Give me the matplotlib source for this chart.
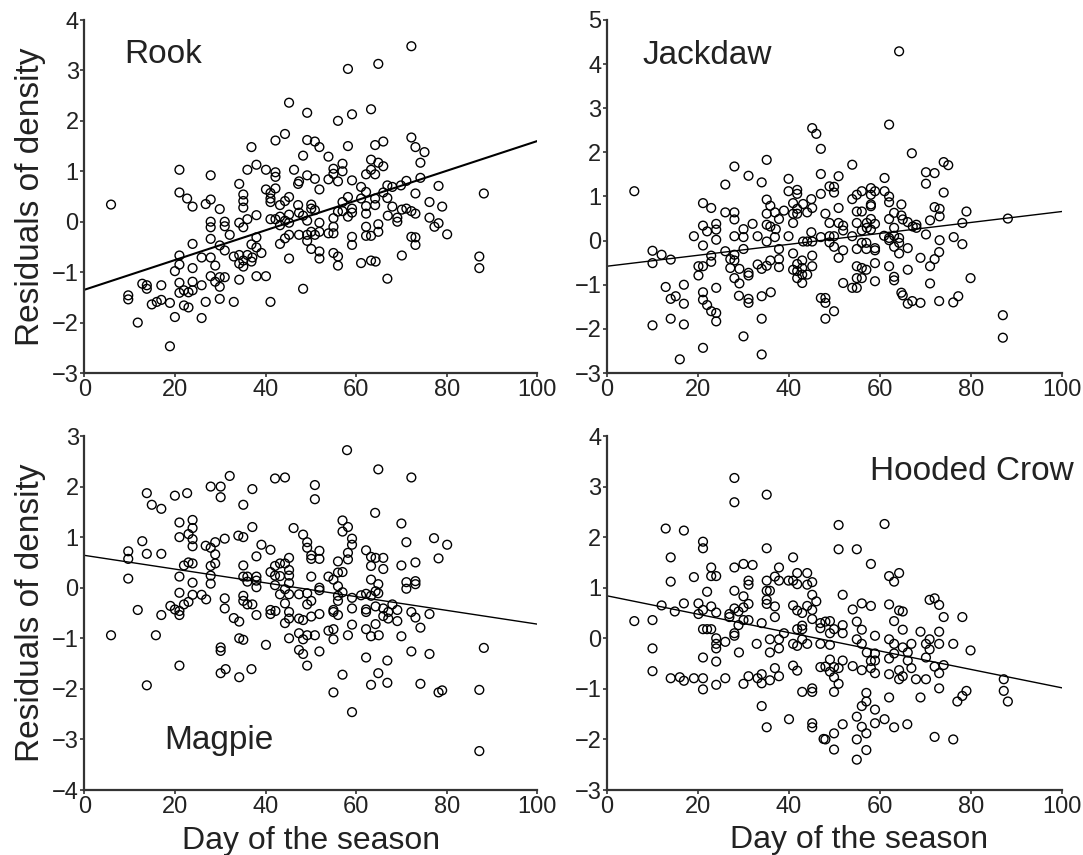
import matplotlib
matplotlib.use("Agg")
import matplotlib.pyplot as plt
import numpy as np

plt.rcParams['font.family'] = ['Liberation Sans', 'DejaVu Sans']

# ---------------- data ----------------
rook_day = [5.9, 21.0, 21.0, 22.7, 23.9, 26.8, 27.9, 27.9, 29.9, 27.9, 27.9, 31.0, 31.0, 32.1, 27.9, 29.9, 31.0,
            23.9, 21.0, 21.0, 23.9, 25.9, 27.9, 28.9, 20.0, 27.9, 28.9, 29.9, 31.0, 29.9, 25.9, 23.9, 23.9, 21.0,
            21.0, 22.0, 23.0, 12.8, 13.8, 13.8, 17.0, 9.7, 9.7, 14.9, 16.0, 17.0, 18.9, 22.0, 23.0, 26.8, 29.9,
            33.0, 20.0, 25.9, 11.8, 18.9, 34.2, 35.1, 35.1, 35.1, 36.0, 34.2, 35.1, 38.0, 38.0, 36.9, 38.0, 39.1,
            33.0, 34.2, 36.0, 35.1, 37.1, 34.2, 35.1, 36.9, 34.2, 38.0, 40.1, 41.1, 36.9, 38.0, 36.0, 40.1, 42.2,
            42.2, 42.2, 40.1, 41.1, 41.1, 41.1, 42.2, 44.3, 45.2, 43.2, 44.3, 45.2, 41.1, 42.2, 43.2, 44.3, 43.2,
            45.2, 45.2, 44.3, 43.2, 45.2, 45.2, 46.3, 47.2, 47.4, 47.2, 47.4, 48.3, 48.3, 47.4, 48.3,
            49.2, 49.2, 50.9, 51.9, 53.9, 49.2, 50.9, 51.9, 50.1, 50.1, 50.9, 49.2, 49.2, 49.2, 50.9, 50.1, 51.9,
            51.9, 50.1, 51.9, 51.9, 53.9, 55.0, 55.0, 55.0, 56.0, 57.0, 58.2, 57.0, 58.2, 59.1, 59.1, 55.0, 56.0,
            56.0, 59.1, 59.1, 53.9, 55.0, 55.0, 56.0, 57.0, 57.0, 59.1, 56.0, 59.1, 58.2, 58.2, 61.1, 61.1, 62.2,
            62.2, 63.3, 63.3, 64.2, 64.9, 64.2, 66.0, 66.0, 63.3, 64.9, 72.2, 72.2, 73.1, 75.1, 74.2, 74.2, 71.1,
            69.9, 68.0, 66.9, 66.0, 66.9, 64.2, 62.2, 62.2, 64.2, 62.2, 62.2, 63.3, 64.9, 64.9, 61.1, 63.3, 64.3,
            66.9, 67.0, 68.0, 69.1, 69.1, 70.1, 71.1, 72.2, 73.1, 73.1, 70.1, 72.2, 73.1, 73.1, 76.2, 78.2, 79.0,
            76.2, 77.3, 78.2, 80.1, 88.2, 87.2, 87.2]
rook_res = [0.34, 1.03, 0.58, 0.46, 0.30, 0.35, 0.44, 0.92, 0.25, 0.00, -0.11, 0.00, -0.09, -0.26, -0.34, -0.47,
            -0.57, -0.44, -0.67, -0.85, -0.92, -0.71, -0.71, -0.87, -0.98, -1.08, -1.19, -1.10, -1.10, -1.29, -1.26,
            -1.19, -1.36, -1.21, -1.41, -1.36, -1.40, -1.23, -1.26, -1.33, -1.26, -1.46, -1.54, -1.64, -1.59, -1.55,
            -1.61, -1.66, -1.70, -1.59, -1.53, -1.59, -1.89, -1.91, -2.00, -2.47, 0.75, 0.54, 0.41, 0.28, 0.05,
            -0.02, -0.11, 0.13, -0.31, -0.45, -0.51, -0.62, -0.69, -0.66, -0.66, -0.77, -0.71, -0.83, -0.89, -0.79,
            -1.15, -1.08, -1.08, -1.59, 1.48, 1.13, 1.03, 1.03, 0.98, 0.89, 0.66, 0.64, 0.57, 0.46, 0.39, 1.61,
            1.74, 2.36, 0.33, 0.41, 0.49, 0.05, 0.05, 0.10, 0.02, -0.07, 0.14, -0.02, -0.33, -0.44, -0.26, -0.73,
            1.03, 0.75, 0.80, 0.33, 0.18, 1.31, 0.12, -0.26, -1.33,
            2.16, 1.62, 1.59, 1.48, 1.29, 0.92, 0.85, 0.64, 0.34, 0.26, 0.23, 0.02, -0.26, -0.38, -0.26, -0.20,
            -0.02, -0.20, -0.54, -0.59, -0.73, -0.23, -0.23, -0.10, 0.07, 0.20, 0.39, 0.49, 0.21, 0.10, 0.18, 0.26,
            -0.62, -0.69, -0.87, -0.30, -0.46, 0.84, 1.05, 0.95, 0.80, 1.15, 1.00, 0.82, 2.00, 2.13, 3.03, 1.50,
            0.69, 0.46, 0.59, 0.94, 1.03, 1.23, 0.94, 1.17, 1.52, 1.59, 1.10, 2.23, 3.13, 3.48, 1.67, 1.48, 1.38,
            1.17, 0.87, 0.81, 0.72, 0.69, 0.72, 0.58, 0.47, 0.46, 0.31, 0.16, 0.33, -0.10, -0.28, -0.28, -0.20,
            -0.05, -0.82, -0.77, -0.79, -1.13, 0.12, 0.30, 0.08, 0.00, 0.24, 0.26, 0.21, 0.16, 0.56, -0.67, -0.30,
            -0.31, -0.46, 0.39, 0.71, 0.30, 0.08, -0.10, -0.03, -0.25, 0.56, -0.69, -0.92]

jackdaw_day = [6.0, 10.0, 10.0, 12.0, 14.0, 10.0, 12.9, 14.0, 15.1, 14.0, 16.9, 16.9, 16.9, 16.0, 19.1, 21.1,
               22.9, 21.1, 22.0, 24.0, 24.0, 24.0, 21.1, 22.9, 22.9, 20.1, 21.1, 20.1, 21.1, 21.1, 22.0, 22.9,
               24.0, 24.0, 24.0, 21.1, 26.0, 28.0, 26.0, 26.0, 28.0, 28.0, 28.0, 27.1, 28.0, 28.0, 27.1, 28.0,
               29.1, 29.1, 29.0, 30.0, 30.0, 30.0, 31.1, 31.1, 31.1, 31.1, 31.1, 30.0, 32.0, 33.1, 33.1, 34.0,
               34.0, 34.0, 34.0, 34.0, 35.1, 35.1, 35.1, 35.1, 35.1, 35.1, 36.0, 35.9, 35.9, 35.9, 36.9, 37.1,
               36.9, 37.8, 37.8, 37.8, 37.8, 38.9, 39.9, 39.9, 39.9, 40.9, 40.9, 40.9, 40.9, 40.9, 41.8, 41.8,
               41.8, 41.8, 41.8, 41.8, 41.8, 42.9, 42.9, 42.9, 42.9, 43.1, 44.0, 44.0, 44.9, 45.1, 44.9, 43.1,
               44.0, 45.1, 45.1, 45.1, 45.1, 46.0,
               47.0, 47.0, 47.0, 48.9, 49.9, 49.9, 50.9, 50.9, 48.0, 48.9, 47.0, 48.9, 49.9, 48.9, 49.9, 50.9,
               51.9, 51.9, 50.9, 51.9, 47.0, 48.0, 48.0, 49.9, 48.0, 51.9, 53.9, 53.9, 54.9, 56.0, 54.9, 56.0,
               54.9, 56.0, 57.1, 57.1, 58.0, 58.0, 58.0, 58.0, 58.9, 58.0, 58.9, 58.0, 53.9, 54.9, 56.0, 57.0,
               57.0, 58.9, 58.9, 58.9, 54.9, 56.0, 57.0, 54.9, 56.0, 53.9, 54.9, 58.9, 61.0, 61.0, 62.0, 62.0,
               62.0, 64.2, 62.0, 63.1, 63.1, 60.9, 62.0, 62.0, 63.1, 64.2, 64.2, 63.1, 64.2, 62.0, 63.1, 63.1,
               64.7, 64.7, 65.0, 66.1, 67.0, 67.2, 68.0, 68.0, 66.1, 66.1, 64.7, 65.0, 66.1, 67.1, 68.9, 68.9,
               70.1, 70.1, 72.0, 71.0, 70.1, 72.0, 73.1, 73.1, 74.0, 75.0, 74.0, 73.1, 73.0, 72.0, 71.0, 71.0,
               73.0, 76.2, 76.1, 77.2, 78.1, 78.1, 79.0, 79.9, 88.1, 87.0, 87.0]
jackdaw_res = [1.12, -0.23, -0.51, -0.32, -0.43, -1.92, -1.05, -1.32, -1.26, -1.77, -1.00, -1.43, -1.90, -2.69,
               0.10, 0.85, 0.74, 0.34, 0.21, 0.38, 0.25, 0.02, -0.11, -0.34, -0.48, -0.58, -0.58, -0.79, -1.17,
               -1.34, -1.46, -1.60, -1.64, -1.83, -1.07, -2.43, 1.27, 1.68, -0.24, 0.64, 0.64, 0.48, 0.10, -0.42,
               -0.32, -0.45, -0.62, -0.85, -0.64, -0.97, -1.25, 0.26, 0.08, -0.19, 1.47, -0.73, -0.79, -1.32,
               -1.41, -2.17, 0.38, 0.10, -0.54, 1.32, -0.64, -1.26, -1.77, -2.58, 1.83, 0.93, 0.61, 0.36, -0.02,
               -0.57, -1.17, 0.79, 0.32, -0.45, 0.64, 0.26, 0.08, 0.49, -0.19, -0.42, -0.60, 0.68, 1.40, 1.12,
               0.10, 0.85, 0.61, 0.40, -0.29, -0.66, 1.15, 1.06, 0.72, 0.61, -0.53, -0.69, -0.85, -0.45, -0.62,
               -0.77, -0.96, 0.83, 0.64, -0.77, 0.94, 0.74, 0.19, -0.02, -0.02, -0.02, -0.34, -0.58, 2.55, 2.42,
               2.08, 1.51, 1.06, 1.23, 1.22, 1.09, 1.46, 0.74, 0.61, 0.40, 0.08, 0.10, 0.10, -0.04, -0.14, 0.40,
               0.34, 0.23, -0.39, -0.22, -1.30, -1.30, -1.41, -1.60, -1.77, -0.96, 1.72, 0.94, 1.04, 1.12, 0.66,
               0.66, 0.40, 0.23, 0.40, 0.29, 1.19, 1.04, 0.82, 0.78, 1.12, 0.49, 0.38, 0.25, 0.10, -0.19, -0.05,
               -0.05, -0.19, -0.17, -0.22, -0.51, -0.58, -0.62, -0.66, -0.85, -0.85, -1.07, -1.07, -0.92, 1.42,
               1.12, 1.00, 0.87, 2.63, 4.29, 0.49, 0.63, 0.29, 0.11, 0.06, 0.01, 0.11, 0.06, -0.05, -0.14, -0.29,
               -0.58, -0.82, -0.90, 0.82, 0.57, 0.48, 0.42, 1.98, 0.32, 0.36, 0.29, -0.17, -0.66, -1.18, -1.24,
               -1.43, -1.37, -1.41, -0.39, 1.55, 1.29, 1.53, 0.46, 0.14, 0.76, 0.72, 0.55, 1.78, 1.71, 1.09, 0.01,
               -0.26, -0.42, -0.58, -0.97, -1.37, 0.08, -1.40, -1.26, 0.40, -0.08, 0.66, -0.85, 0.50, -1.69, -2.20]

magpie_day = [5.9, 9.7, 9.7, 9.7, 11.8, 12.8, 13.8, 14.9, 17.0, 13.8, 17.0, 17.0, 15.8, 13.8, 20.0, 22.7, 21.0,
              21.0, 23.0, 23.9, 23.9, 23.9, 23.9, 21.0, 21.0, 22.0, 23.0, 23.9, 23.9, 23.9, 23.0, 22.0, 19.0, 20.0,
              21.0, 21.0, 25.9, 26.9, 21.0, 26.8, 27.9, 30.1, 30.1, 32.1, 27.9, 28.9, 28.9, 28.9, 27.9, 27.9, 27.9,
              31.0, 31.0, 31.0, 33.0, 34.2, 34.2, 35.1, 30.1, 30.1, 30.1, 31.2, 34.2, 36.9, 35.1, 37.1, 34.0, 35.1,
              37.1, 35.1, 35.1, 36.0, 36.0, 38.0, 38.0, 38.0, 38.0, 39.1, 35.1, 35.1, 36.0, 37.1, 38.0, 40.1, 41.1,
              42.1, 44.3, 41.1, 42.1, 42.1, 42.1, 43.2, 43.2, 44.3, 45.2, 45.2, 45.2, 45.2, 44.3, 43.2, 45.2, 44.3,
              41.1, 41.1, 42.2, 45.2, 45.2, 44.3, 45.2, 46.2, 47.4, 47.4, 47.4, 47.4, 48.3, 48.3, 48.3, 48.3,
              50.9, 50.9, 49.2, 49.2, 50.1, 50.1, 51.9, 51.9, 50.1, 51.9, 51.9, 49.2, 49.2, 50.1, 50.1, 51.9, 49.2,
              50.9, 49.2, 51.9, 53.9, 55.0, 56.0, 57.0, 56.0, 57.0, 56.0, 56.0, 56.0, 58.2, 58.2, 59.1, 59.1, 58.2,
              57.0, 57.0, 58.0, 55.0, 55.0, 56.0, 53.9, 55.0, 55.0, 58.2, 59.1, 59.1, 59.1, 57.0, 55.0, 59.1, 61.1,
              62.2, 62.2, 63.3, 63.3, 64.3, 66.0, 66.0, 63.3, 64.9, 64.3, 64.9, 63.3, 64.3, 62.2, 62.2, 66.0, 66.0,
              67.1, 67.1, 68.0, 69.1, 69.1, 64.3, 62.2, 63.3, 65.0, 64.2, 64.9, 72.2, 70.0, 71.1, 70.0, 73.1, 71.1,
              71.1, 73.1, 73.1, 72.2, 73.1, 74.2, 70.0, 72.2, 62.2, 66.9, 64.9, 63.3, 66.9, 74.2, 76.2, 76.2, 77.2,
              80.1, 78.2, 78.2, 79.0, 88.2, 87.2, 87.2]
magpie_res = [-0.94, 0.72, 0.57, 0.18, -0.44, 0.92, 1.87, 1.64, 1.56, 0.67, 0.67, -0.54, -0.94, -1.93, 1.82, 1.87,
              1.29, 1.00, 1.06, 1.34, 1.18, 0.96, 0.82, 0.22, -0.10, 0.44, 0.50, 0.48, 0.10, -0.14, -0.28, -0.33,
              -0.36, -0.43, -0.46, -0.54, -0.14, -0.23, -1.54, 0.83, 2.00, 2.00, 1.79, 2.21, 0.79, 0.90, 0.66, 0.48,
              0.43, 0.24, 0.08, 0.97, -0.21, -0.41, -0.60, -0.67, -1.00, -1.03, -1.18, -1.25, -1.69, -1.61, -1.77,
              -1.61, 1.64, 1.95, 1.03, 1.00, 1.20, 0.44, 0.22, 0.12, 0.22, 0.22, 0.14, 0.01, 0.62, 0.85, -0.16,
              -0.26, -0.33, -0.33, -0.54, -1.13, 0.75, 2.16, 2.18, 0.31, 0.43, 0.24, 0.05, 0.23, 0.48, 0.48, 0.59,
              0.35, 0.24, 0.09, -0.03, -0.13, -0.13, -0.31, -0.44, -0.52, -0.46, -0.48, -0.61, -0.70, -1.00, 1.18,
              -0.13, -0.61, -0.90, -1.23, -0.64, -1.02, -1.31, 1.05,
              2.03, 1.75, 0.90, 0.79, 0.64, 0.57, 0.73, 0.57, 0.22, 0.00, -0.05, -0.11, -0.33, -0.26, -0.57, -0.52,
              -0.94, -0.94, -1.54, -1.26, 0.22, 0.16, 0.30, 0.31, 0.03, -0.09, -0.16, -0.26, 0.52, 0.56, 0.69, 0.85,
              0.97, 1.20, 1.33, 1.11, 2.72, -0.44, -0.48, -0.54, -0.85, -0.82, -1.02, -0.94, -0.73, -0.41, -0.20,
              -1.72, -2.07, -2.46, -0.15, -0.12, 0.74, 0.61, 0.43, 0.59, 0.59, 0.37, 0.16, 0.07, -0.07, -0.11,
              -0.16, -0.37, -0.43, -0.48, -0.41, -0.56, -0.48, -0.61, -0.33, -0.44, -0.66, -0.72, -0.82, -0.96,
              -0.94, 1.48, 2.34, 2.18, 1.27, 0.90, 0.44, 0.50, 0.11, -0.02, 0.13, 0.07, -0.48, -0.59, -0.79, -0.96,
              -1.26, -1.38, -1.44, -1.69, -1.92, -1.88, -1.90, -0.52, -1.31, 0.98, 0.85, 0.58, -2.07, -2.03, -1.19,
              -2.02, -3.23]

crow_day = [6.0, 10.0, 10.0, 10.0, 12.0, 12.9, 14.0, 14.0, 14.9, 14.0, 16.0, 16.9, 16.9, 16.9, 19.1, 19.1, 20.1,
            20.1, 21.1, 21.1, 21.1, 21.1, 22.0, 22.0, 22.9, 22.9, 24.0, 22.9, 24.0, 22.9, 24.0, 24.0, 24.0, 24.0,
            21.1, 21.1, 21.1, 24.0, 26.0, 26.0, 26.9, 26.9, 28.0, 28.0, 28.0, 28.0, 28.0, 28.0, 28.0, 28.9, 28.9,
            29.0, 30.0, 30.0, 30.0, 30.0, 31.1, 31.1, 31.1, 31.1, 32.0, 30.0, 31.1, 32.9, 34.0, 33.1, 34.0, 34.0,
            34.0, 35.1, 35.1, 35.1, 35.1, 35.1, 35.1, 35.8, 35.8, 35.8, 35.8, 35.1, 36.9, 36.9, 36.9, 36.9, 37.8,
            37.8, 37.8, 37.8, 37.8, 38.9, 39.9, 40.0, 40.9, 40.9, 40.9, 40.9, 40.9, 41.8, 41.8, 41.8, 41.8, 41.8,
            41.8, 42.9, 42.9, 42.9, 42.9, 42.9, 44.0, 44.0, 44.0, 44.0, 45.1, 45.1, 45.1, 45.1, 45.1, 45.1, 45.1,
            45.1, 46.0, 46.9, 46.9, 46.9, 46.9, 47.6,
            48.0, 49.0, 49.0, 49.9, 50.9, 50.9, 51.8, 51.8, 51.8, 49.0, 48.0, 49.0, 49.0, 49.9, 50.9, 51.8, 49.9,
            50.9, 49.9, 51.8, 49.9, 48.0, 49.9, 54.0, 54.0, 54.9, 54.9, 54.9, 56.0, 56.0, 56.0, 56.0, 57.1, 58.0,
            58.0, 58.0, 58.0, 58.9, 58.9, 58.9, 58.9, 57.0, 57.0, 56.0, 58.9, 54.9, 56.0, 57.0, 58.9, 54.9, 57.0,
            54.9, 61.0, 62.0, 63.1, 64.2, 62.0, 64.2, 65.0, 63.1, 65.0, 62.0, 63.1, 62.0, 63.1, 65.0, 66.1, 66.9,
            66.1, 66.9, 64.2, 65.0, 64.2, 62.0, 62.0, 61.0, 63.1, 66.0, 67.9, 68.9, 68.9, 70.1, 70.1, 70.1, 70.9,
            70.9, 70.9, 72.0, 73.0, 73.0, 73.0, 72.0, 73.0, 74.0, 74.0, 73.0, 72.0, 76.1, 76.1, 77.0, 78.1, 79.0,
            78.1, 79.9, 87.2, 87.2, 88.1]
crow_res = [0.34, 0.36, -0.20, -0.65, 0.65, 2.17, 1.60, 1.12, 0.53, -0.79, -0.77, 2.13, 0.69, -0.84, 1.21, -0.79,
            0.69, 0.48, 1.91, 1.78, 0.56, 0.18, 0.18, 0.92, 1.40, 1.23, 1.23, 0.63, 0.51, 0.18, 0.00, -0.11, -0.20,
            -0.46, -0.38, -0.79, -1.01, -0.92, -0.79, -0.07, 0.48, 0.42, 3.17, 2.69, 1.40, 0.94, 0.59, 0.10, 0.05,
            0.53, 0.26, -0.28, 1.47, 0.83, 0.61, 0.36, 1.14, 1.06, 0.68, 0.36, 1.45, -0.90, -0.75, -0.11, 0.30,
            -0.79, -0.71, -0.89, -1.34, 1.78, 2.84, 1.14, 0.94, 0.76, 0.68, 0.94, -0.02, -0.28, -0.83, -1.76, 1.22,
            0.63, 0.42, -0.59, 1.40, 1.14, -0.02, -0.20, -0.75, 0.10, 1.14, -1.60, 1.60, 1.14, 0.65, -0.11, -0.54,
            1.29, 1.07, 0.55, 0.18, -0.15, -0.64, 0.50, 0.25, 0.18, -0.02, -1.06, 1.29, 1.06, 0.64, -0.11, 1.11,
            0.86, 0.56, 0.38, -0.99, -1.06, -1.68, -1.76, 0.73, 0.30, 0.20, -0.11, -0.57, -1.99,
            0.33, 0.34, 0.10, 0.18, 2.24, 1.76, 0.86, 0.26, 0.10, -0.13, -0.56, -0.42, -0.66, -0.57, -0.59, -0.44,
            -0.77, -0.90, -1.06, -1.70, -1.88, -2.00, -2.20, 0.57, -0.55, 1.76, 0.33, -0.02, 0.69, 0.17, -0.11,
            -0.63, -0.28, 1.47, 0.64, -0.45, -0.59, 0.05, -0.30, -0.44, -0.69, -1.08, -1.25, -1.34, -1.41, -1.55,
            -1.75, -1.88, -1.68, -2.00, -2.21, -2.40, 2.26, 1.23, 1.12, 1.29, 0.67, 0.55, 0.53, 0.34, 0.17, -0.02,
            -0.11, -0.40, -0.30, -0.18, -0.28, -0.11, -0.44, -0.59, -0.63, -0.75, -0.81, -0.71, -1.17, -1.60, -1.76,
            -1.70, -0.81, 0.13, -1.17, -0.11, -0.38, -0.81, -0.02, -0.22, 0.76, 0.79, 0.66, 0.13, -0.11, -0.56,
            -0.69, -0.53, 0.42, -0.99, -1.95, -0.11, -2.00, -1.25, -1.14, -1.04, 0.42, -0.24, -0.81, -1.04, -1.25]

# regression lines: (intercept, slope)
rook_fit = (-1.35, 0.0295)
jackdaw_fit = (-0.58, 0.0124)
magpie_fit = (0.64, -0.0136)
crow_fit = (0.84, -0.0182)

species = ["Rook", "Jackdaw", "Magpie", "Hooded Crow"]
x_ticks = [0, 20, 40, 60, 80, 100]
y_limits = [(-3, 4), (-3, 5), (-4, 3), (-3, 4)]
label_pos = [(17.4, 3.31), (22.0, 4.19), (29.7, -3.02), (80.2, 3.29)]
x_label = "Day of the season"
y_label = "Residuals of density"

# ---------------- figure ----------------
W, H = 1083, 855
fig = plt.figure(figsize=(W / 100, H / 100), dpi=100)

boxes = [
    (84.3, 20, 453, 353),
    (607, 20, 455, 353),
    (84.3, 436, 453, 354),
    (607, 436, 455, 354),
]
data = [(rook_day, rook_res, rook_fit, 1.5),
        (jackdaw_day, jackdaw_res, jackdaw_fit, 1.0),
        (magpie_day, magpie_res, magpie_fit, 1.0),
        (crow_day, crow_res, crow_fit, 1.0)]

spine_col = "#333333"
for i, (bx, by, bw, bh) in enumerate(boxes):
    ax = fig.add_axes([bx / W, (H - by - bh) / H, bw / W, bh / H])
    xd, yd, fit, lw = data[i]
    ax.scatter(xd, yd, s=40, facecolors="none", edgecolors="black", linewidths=1.0, zorder=3, clip_on=False)
    xs = np.array([0, 100])
    ax.plot(xs, fit[0] + fit[1] * xs, color="black", lw=lw, zorder=2)
    ax.set_xlim(0, 100)
    ax.set_ylim(*y_limits[i])
    ax.set_xticks(x_ticks)
    ax.set_yticks(range(y_limits[i][0], y_limits[i][1] + 1))
    for s in ["top", "right"]:
        ax.spines[s].set_visible(False)
    for s in ["left", "bottom"]:
        ax.spines[s].set_color(spine_col)
        ax.spines[s].set_linewidth(1.6)
    ax.tick_params(axis="both", direction="out", length=3, width=1.2, color=spine_col,
                   labelsize=17, labelcolor="#222222", pad=1)
    ax.text(label_pos[i][0], label_pos[i][1], species[i], fontsize=24, color="#222222",
            ha="center", va="center")
    if i in (0, 2):
        ax.set_ylabel(y_label, fontsize=24, color="#222222", labelpad=4)
    if i in (2, 3):
        ax.set_xlabel(x_label, fontsize=23, color="#222222", labelpad=6)
    if i == 3:
        ax.xaxis.set_label_coords(0.555, -0.1)
        ax.xaxis.label.set_va("top")

fig.savefig("out.png", dpi=100)
